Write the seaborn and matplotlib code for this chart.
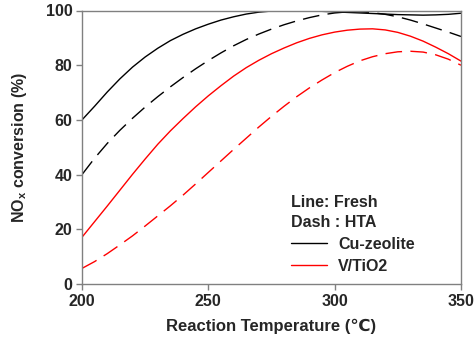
import numpy as np
import pandas as pd
import matplotlib
matplotlib.use('Agg')
import matplotlib.pyplot as plt
import seaborn as sns
from matplotlib.lines import Line2D

# temperaturas (C)
temp = [200, 205, 210, 215, 220, 225, 230, 235, 240, 245, 250, 255, 260, 265, 270, 275,
        280, 285, 290, 295, 300, 305, 310, 315, 320, 325, 330, 335, 340, 345, 350]

# conversao de NOx (%)
cu_fresh = [60, 65, 70.2, 75, 79.3, 83, 86.2, 89, 91.3, 93.3, 95, 96.5, 97.7, 98.7, 99.4, 99.8,
            100, 100, 99.9, 99.7, 99.5, 99.3, 99.1, 98.9, 98.7, 98.5, 98.4, 98.3, 98.4, 98.6, 99]
cu_hta = [40, 46, 51.4, 56.2, 60.6, 64.7, 68.5, 72.1, 75.5, 78.7, 81.7, 84.5, 87.1, 89.4, 91.4, 93.2,
          94.8, 96.2, 97.4, 98.4, 99.1, 99.5, 99.5, 99.2, 98.6, 97.7, 96.5, 95.1, 93.6, 92.1, 90.5]
v_fresh = [17.1, 22.8, 28.5, 34.3, 40.1, 45.7, 51.1, 56, 60.5, 64.8, 68.8, 72.5, 76, 79.1, 81.8, 84.2,
           86.3, 88.2, 89.8, 91.1, 92.1, 92.8, 93.2, 93.3, 92.9, 92, 90.6, 88.8, 86.6, 84.2, 81.5]
v_hta = [5.7, 8.2, 11.1, 14.3, 17.6, 21.2, 24.9, 28.6, 32.5, 36.6, 40.8, 45, 49.2, 53.3, 57.4, 61.3,
         65, 68.5, 71.7, 74.6, 77.3, 79.6, 81.6, 83.1, 84.2, 84.9, 85.1, 84.8, 83.8, 82.2, 80]

series = {
    ('Cu-zeolite', 'Fresh'): cu_fresh,
    ('Cu-zeolite', 'HTA'): cu_hta,
    ('V/TiO2', 'Fresh'): v_fresh,
    ('V/TiO2', 'HTA'): v_hta,
}
linhas = []
for (cat, cond), vals in series.items():
    linhas.append(pd.DataFrame({'T': temp, 'conv': vals, 'cat': cat, 'cond': cond}))
df = pd.concat(linhas, ignore_index=True)

sns.set_style('ticks')
plt.rcParams['font.family'] = ['Liberation Sans', 'DejaVu Sans']
plt.rcParams['mathtext.fontset'] = 'custom'
plt.rcParams['mathtext.rm'] = 'Liberation Sans'
plt.rcParams['mathtext.bf'] = 'Liberation Sans:bold'

fig = plt.figure(figsize=(4.75, 3.5), dpi=100)
ax = fig.add_axes([0.1726, 0.1886, 0.7979, 0.7814])

cores = {'Cu-zeolite': 'black', 'V/TiO2': 'red'}
for (cat, cond), sub in df.groupby(['cat', 'cond']):
    ls = '-' if cond == 'Fresh' else (0, (12, 6))
    sns.lineplot(data=sub, x='T', y='conv', ax=ax, color=cores[cat],
                 linestyle=ls, linewidth=1.0, legend=False)

ax.set_xlim(200, 350)
ax.set_ylim(0, 100)
ax.set_xticks([200, 250, 300, 350])
ax.set_yticks([0, 20, 40, 60, 80, 100])
for s in ax.spines.values():
    s.set_color('#808080')
    s.set_linewidth(1.0)
ax.tick_params(direction='out', length=4, width=1, color='#808080',
               labelsize=11.5, pad=3)
for lab in ax.get_xticklabels() + ax.get_yticklabels():
    lab.set_fontweight('bold')

ax.set_xlabel('Reaction Temperature (\u2103)', fontsize=12, fontweight='bold', labelpad=7)
ax.set_ylabel(r'$\mathbf{NO_x}$ conversion (%)', fontsize=11.5, fontweight='bold', labelpad=12)

handles = [Line2D([0], [0], color='black', lw=1.0),
           Line2D([0], [0], color='red', lw=1.0)]
leg = ax.legend(handles, ['Cu-zeolite', 'V/TiO2'], title='Line: Fresh\nDash : HTA',
                loc='upper left', bbox_to_anchor=(0.551, 0.326), frameon=False,
                borderpad=0, borderaxespad=0, handlelength=2.25, handletextpad=0.7,
                labelspacing=0.45, prop={'weight': 'bold', 'size': 11.5},
                title_fontproperties={'weight': 'bold', 'size': 11.5}, alignment='left')
leg.get_title().set_linespacing(1.4)

fig.savefig('out.png', dpi=100)
